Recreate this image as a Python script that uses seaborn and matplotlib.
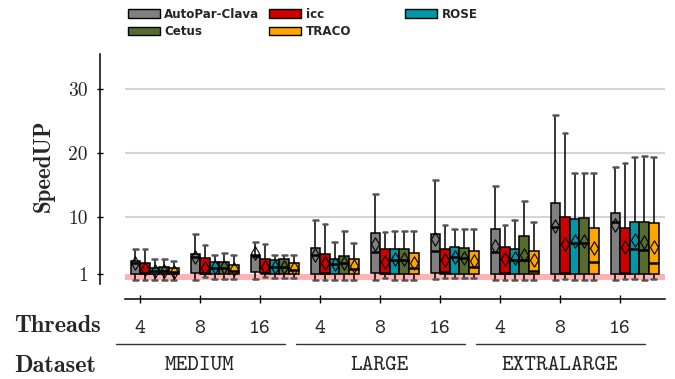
import numpy as np
import pandas as pd
import matplotlib
matplotlib.use("Agg")
import matplotlib.pyplot as plt
import matplotlib.transforms as mtrans
from matplotlib.patches import Patch
import seaborn as sns

# ---------------- data ----------------
tools = ["AutoPar-Clava", "icc", "ROSE", "Cetus", "TRACO"]
datasets = ["MEDIUM", "LARGE", "EXTRALARGE"]
threads = ["4", "8", "16"]
configs = [f"{d}-{t}" for d in datasets for t in threads]

lo = {
    "AutoPar-Clava": [0.05, 0.06, 0.27, 0.06, 0.06, 0.22, 0.0, 0.06, 0.06],
    "icc":           [0.0, 0.58, 0.58, 0.06, 0.32, 0.32, 0.06, 0.17, 0.17],
    "ROSE":          [0.0, 0.27, 0.4, 0.06, 0.06, 0.32, 0.0, 0.06, 0.17],
    "Cetus":         [0.0, 0.27, 0.4, 0.06, 0.06, 0.32, 0.0, 0.06, 0.06],
    "TRACO":         [0.0, 0.27, 0.4, 0.1, 0.1, 0.45, 0.06, 0.06, 0.17],
}
q1 = {
    "AutoPar-Clava": [1.0, 1.2, 1.37, 1.0, 1.2, 1.2, 1.0, 1.0, 1.0],
    "icc":           [1.0, 1.0, 1.1, 1.0, 1.0, 1.0, 1.0, 1.0, 1.0],
    "ROSE":          [1.0, 1.0, 1.0, 1.0, 1.0, 1.0, 1.0, 1.0, 1.0],
    "Cetus":         [1.0, 1.0, 1.0, 1.0, 1.0, 1.0, 1.0, 1.0, 1.0],
    "TRACO":         [1.0, 1.0, 1.0, 1.0, 1.0, 1.0, 1.0, 1.0, 1.0],
}
med = {
    "AutoPar-Clava": [2.75, 3.6, 3.8, 3.98, 4.5, 4.66, 4.45, 8.42, 9.2],
    "icc":           [1.1, 1.15, 1.2, 1.15, 1.1, 1.37, 1.2, 1.2, 1.2],
    "ROSE":          [1.45, 2.0, 2.1, 2.5, 3.25, 3.7, 3.2, 5.91, 4.92],
    "Cetus":         [1.5, 2.0, 2.1, 2.75, 3.25, 3.5, 3.2, 5.91, 4.76],
    "TRACO":         [1.3, 1.47, 1.6, 1.73, 1.99, 2.05, 1.52, 2.93, 2.77],
}
q3 = {
    "AutoPar-Clava": [3.04, 4.14, 3.98, 5.03, 7.48, 7.22, 8.0, 12.18, 10.61],
    "icc":           [2.68, 3.46, 3.3, 4.14, 4.87, 4.87, 5.18, 9.89, 8.26],
    "ROSE":          [1.9, 2.83, 3.2, 3.3, 4.87, 5.18, 4.92, 9.57, 9.2],
    "Cetus":         [2.05, 2.83, 3.3, 3.82, 4.87, 5.13, 6.96, 9.73, 9.2],
    "TRACO":         [1.9, 2.41, 2.77, 3.35, 4.24, 4.6, 4.66, 8.26, 9.04],
}
hi = {
    "AutoPar-Clava": [4.87, 7.27, 6.07, 9.47, 13.54, 15.7, 14.85, 25.9, 17.73],
    "icc":           [4.87, 5.55, 5.65, 8.84, 7.54, 8.68, 8.68, 23.05, 18.35],
    "ROSE":          [3.3, 3.98, 3.93, 6.07, 7.79, 8.0, 9.41, 16.88, 19.39],
    "Cetus":         [3.3, 4.24, 3.93, 7.74, 7.79, 8.0, 12.5, 16.88, 19.55],
    "TRACO":         [3.1, 3.98, 3.93, 5.81, 7.79, 8.0, 9.15, 16.88, 19.39],
}
mean = {
    "AutoPar-Clava": [2.7, 3.6, 4.24, 3.98, 5.7, 6.44, 5.39, 8.52, 8.68],
    "icc":           [1.78, 1.99, 2.15, 2.77, 2.93, 3.2, 3.3, 5.7, 5.28],
    "ROSE":          [1.47, 2.05, 2.15, 2.52, 3.3, 3.72, 3.56, 6.17, 6.33],
    "Cetus":         [1.52, 2.05, 2.15, 2.77, 3.3, 3.56, 3.98, 6.22, 5.96],
    "TRACO":         [1.37, 1.73, 1.9, 2.25, 2.77, 3.04, 3.2, 5.13, 5.18],
}
colors = {"AutoPar-Clava": "#808080", "icc": "#cc0000", "ROSE": "#0097a7",
          "Cetus": "#556b2f", "TRACO": "#ffa500"}
yticks = [1, 10, 20, 30]

# ---------------- tables ----------------
rows = []
for t in tools:
    for i, c in enumerate(configs):
        for v in (lo[t][i], q1[t][i], med[t][i], q3[t][i], hi[t][i]):
            rows.append({"config": c, "tool": t, "speedup": v})
df = pd.DataFrame(rows)
dfm = pd.DataFrame([{"config": c, "tool": t, "speedup": mean[t][i]}
                    for t in tools for i, c in enumerate(configs)])

# ---------------- figure ----------------
sns.set_theme(style="ticks")
plt.rcParams["axes.formatter.use_mathtext"] = True
fig = plt.figure(figsize=(6.75, 3.79), dpi=100)
W, H = 675, 379
ax = fig.add_axes([124.5 / W, 1 - 283.6 / H, 540 / W, (283.6 - 54) / H])

ax.axhspan(0, 1, color="#ffb3b3", zorder=0, lw=0)
for y in yticks[1:]:
    ax.axhline(y, color="#d4d4d4", lw=1.5, zorder=0)

sns.boxplot(data=df, x="config", y="speedup", hue="tool", order=configs,
            hue_order=tools, palette=colors, width=0.8, whis=(0, 100),
            showfliers=False, linecolor="black", linewidth=1.1, ax=ax,
            legend=False, saturation=1,
            medianprops=dict(color="black", lw=1.8),
            capprops=dict(color="#555555", lw=1.8),
            whiskerprops=dict(color="black", lw=1.1))
sns.stripplot(data=dfm, x="config", y="speedup", hue="tool", order=configs,
              hue_order=tools, palette={t: (0, 0, 0, 0) for t in tools},
              dodge=True, jitter=False, marker="d", size=6.8,
              edgecolor="black", linewidth=0.8, legend=False, ax=ax, zorder=5)

ax.set_xlim(-0.5, 8.5)
ax.set_ylim(-0.5, 35.5)
ax.set_yticks(yticks)
ax.set_yticklabels([str(v) for v in yticks])
ax.tick_params(axis="y", direction="inout", length=5, width=1, pad=5.8,
               color="black", labelfontfamily="cmr10", labelsize=14)
ax.tick_params(axis="x", bottom=False, labelbottom=False)
ax.set_xlabel("")
ax.set_ylabel("SpeedUP", fontfamily="cmb10", fontsize=16.5)
ax.yaxis.label.set_va("center")
ax.yaxis.set_label_coords(-0.149, 0.512)
sns.despine(ax=ax, offset={"left": 18}, bottom=True)
ax.spines["left"].set_color("black")
ax.spines["left"].set_linewidth(1.1)

# ---------------- threads axis ----------------
ax2 = fig.add_axes([124.5 / W, 1 - 299 / H, 540 / W, 0.001])
ax2.set_xlim(-0.5, 8.5)
ax2.set_yticks([])
for s in ("top", "left", "right"):
    ax2.spines[s].set_visible(False)
ax2.spines["bottom"].set_color("black")
ax2.spines["bottom"].set_linewidth(1.1)
ax2.patch.set_visible(False)
ax2.tick_params(axis="x", direction="inout", length=6, width=1, pad=12,
                color="black")
ax2.set_xticks(np.arange(len(configs)) - 0.25)
ax2.set_xticklabels(threads * 3, fontfamily="cmtt10", fontsize=15)

fig.text(14 / W, 1 - 326 / H, "Threads", ha="left", va="center",
         fontfamily="cmb10", fontsize=17.5)
fig.text(14 / W, 1 - 366 / H, "Dataset", ha="left", va="center",
         fontfamily="cmb10", fontsize=17.5)

tr = mtrans.blended_transform_factory(ax2.transData, fig.transFigure)
for g, d in enumerate(datasets):
    x0 = 3 * g - 0.64
    x1 = 3 * g + 2.17
    ax2.plot([x0, x1], [1 - 344 / H] * 2, color="#333333", lw=1.0,
             transform=tr, clip_on=False)
    ax2.text(3 * g + 0.75, 1 - 366 / H, d, ha="center", va="center",
             fontfamily="cmtt10", fontsize=16, transform=tr)

# ---------------- legend ----------------
def handle(t):
    return Patch(facecolor=colors[t], edgecolor="black", lw=1.0, label=t)

leg_kw = dict(frameon=False, borderpad=0, borderaxespad=0, handlelength=2.7,
              handleheight=0.75, handletextpad=0.35, labelspacing=0.35,
              columnspacing=0.8, loc="upper left",
              prop={"family": "DejaVu Sans", "weight": "bold", "size": 8.6})
order1 = ["AutoPar-Clava", "Cetus", "icc", "TRACO"]
leg1 = fig.legend(handles=[handle(t) for t in order1], ncol=2,
                  bbox_to_anchor=(128 / W, 1 - 8 / H), **leg_kw)
leg2 = fig.legend(handles=[handle("ROSE")], ncol=1,
                  bbox_to_anchor=(405 / W, 1 - 8 / H), **leg_kw)

fig.savefig("out.png", dpi=100)
